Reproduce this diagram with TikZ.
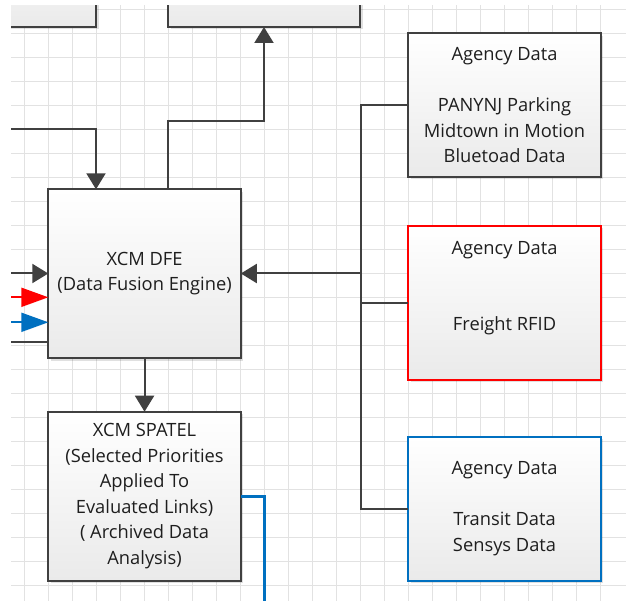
\documentclass[tikz,border=0pt]{standalone}
\usepackage{fontspec}
\setmainfont{Open Sans}
\usetikzlibrary{arrows.meta,shadows}

\definecolor{edgegray}{HTML}{404040}
\definecolor{gridgray}{HTML}{E2E2E2}
\definecolor{boxbottom}{HTML}{EAEAEA}
\definecolor{txtgray}{HTML}{1E1E1E}
\definecolor{linkred}{HTML}{FF0000}
\definecolor{linkblue}{HTML}{0070C0}

\tikzset{
  procbox/.style={draw=edgegray, line width=1.7pt, top color=white, bottom color=boxbottom,
    inner sep=0pt, outer sep=0pt, align=center, text=txtgray,
    font=\fontsize{18.3pt}{25.5pt}\selectfont,
    drop shadow={shadow xshift=2.5pt, shadow yshift=-2.5pt, fill=black, opacity=0.12}},
  conn/.style={draw=edgegray, line width=2pt},
  tip/.style={-{Triangle[width=19pt,length=16pt]}},
  longtip/.style={-{Triangle[width=19pt,length=27pt]}},
  gridline/.style={draw=gridgray, line width=1.4pt}
}

\begin{document}
\begin{tikzpicture}[x=1pt, y=-1pt]
  \useasboundingbox (0,0) rectangle (626,601);
  \fill[white] (0,0) rectangle (626,601);
  \clip (11,6) rectangle (626,601);

  % background grid
  \foreach \gx in {0,...,25} \draw[gridline] (24*\gx+0.7,0) -- (24*\gx+0.7,610);
  \foreach \gy in {0,...,24} \draw[gridline] (0,24*\gy+9.3) -- (630,24*\gy+9.3);

  % boxes
  \node[procbox, anchor=south east, minimum width=150pt, minimum height=100pt] (topA) at (96,27) {};
  \node[procbox, anchor=south west, minimum width=192pt, minimum height=100pt] (topB) at (168,27) {};
  \node[procbox, anchor=north west, minimum width=192.5pt, minimum height=169pt] (dfe) at (48.3,189.3)
    {XCM DFE\\(Data Fusion Engine)};
  \node[procbox, anchor=north west, minimum width=192.5pt, minimum height=169pt] (spatel) at (48.3,411.7)
    {XCM SPATEL\\(Selected Priorities\\Applied To\\Evaluated Links)\\( Archived Data\\Analysis)};
  \node[procbox, anchor=north west, minimum width=192.5pt, minimum height=143.5pt] (ag1) at (408.3,33.3)
    {Agency Data\\ \\PANYNJ Parking\\Midtown in Motion\\Bluetoad Data};
  \node[procbox, draw=linkred, anchor=north west, minimum width=192.5pt, minimum height=154pt] (ag2) at (408.3,225.7)
    {Agency Data\\ \\ \\Freight RFID\\ \strut};
  \node[procbox, draw=linkblue, anchor=north west, minimum width=192.5pt, minimum height=144pt] (ag3) at (408.3,436.7)
    {Agency Data\\ \\Transit Data\\Sensys Data};

  % free ends of incoming / outgoing links
  \coordinate (inTop) at (0,129.3);
  \coordinate (inA) at (0,273.5);
  \coordinate (inR) at (0,297.3);
  \coordinate (inB) at (0,322.3);
  \coordinate (inC) at (0,342.3);
  \coordinate (bus) at (360.7,0);
  \coordinate (outB) at (264,610);

  % connectors
  \draw[conn, tip] (inTop) -| (dfe.north -| topA.south east);
  \draw[conn, tip] (dfe.north -| topB.south west) -- (topB.south west |- 0,120.7) -| (topB.south);
  \draw[conn, tip] (inA) -- (inA -| dfe.west);
  \draw[conn, longtip, draw=linkred, color=linkred] (inR) -- (inR -| dfe.west);
  \draw[conn, longtip, draw=linkblue, color=linkblue] (inB) -- (inB -| dfe.west);
  \draw[conn] (inC) -- (inC -| dfe.west);
  \draw[conn, tip] (dfe.south) -- (spatel.north);
  \draw[conn] (ag1.west) -| (bus |- ag3.west) -- (ag3.west);
  \draw[conn] (ag2.west) -- (bus |- ag2.west);
  \draw[conn, tip] (bus |- inA) -- (inA -| dfe.east);
  \draw[line width=3pt, draw=linkblue] (spatel.east) -| (outB);
\end{tikzpicture}
\end{document}
